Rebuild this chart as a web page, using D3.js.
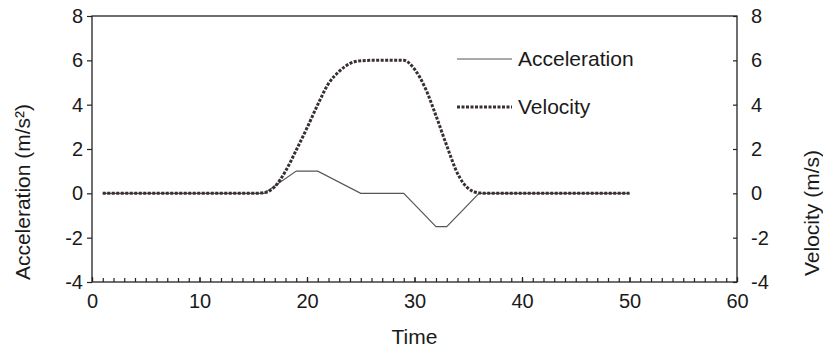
<!DOCTYPE html>
<html>
<head>
<meta charset="utf-8">
<script src="https://cdn.jsdelivr.net/npm/d3@7"></script>
<style>
    body { margin: 0; background: #fff; }
    svg { display: block; }
    text { font-family: "Liberation Sans", Arial, sans-serif; fill: #1a1a1a; }
</style>
</head>
<body>
<svg id="chart" width="823" height="347"></svg>
<script>
// Data
const xTicks = [0, 10, 20, 30, 40, 50, 60];
const yTicks = [-4, -2, 0, 2, 4, 6, 8];

const accelTime = [1, 16, 19, 21, 25, 29, 32, 33, 36, 50];
const accelValues = [0, 0, 1, 1, 0, 0, -1.5, -1.5, 0, 0];

const velStart = 1;   // one sample per time unit, starting at t = 1
const velValues = [
    0, 0, 0, 0, 0, 0, 0, 0, 0, 0,
    0, 0, 0, 0, 0, 0.03, 0.3, 1.0, 1.95, 2.95,
    4.0, 4.95, 5.5, 5.86, 5.98, 6, 6, 6, 6, 5.6,
    4.75, 3.5, 2.15, 0.9, 0.22, 0.02, 0, 0, 0, 0,
    0, 0, 0, 0, 0, 0, 0, 0, 0, 0
];

const seriesNames = ['Acceleration', 'Velocity'];

// Layout
const svg = d3.select('#chart');
const plot = { left: 92, right: 737, top: 16, bottom: 282 };
const tickFont = 20,
    labelFont = 21;

const xScale = d3.scaleLinear().domain([0, 60]).range([plot.left, plot.right]);
const yScale = d3.scaleLinear().domain([-4, 8]).range([plot.bottom, plot.top]);
const plainNum = (d) => String(d);   // plain hyphen minus, as in the original

// Frame
svg.append('rect')
    .attr('x', plot.left).attr('y', plot.top)
    .attr('width', plot.right - plot.left).attr('height', plot.bottom - plot.top)
    .attr('fill', 'none').attr('stroke', '#222').attr('stroke-width', 1.3);

function styleAxis(g) {
    g.select('.domain').remove();
    g.selectAll('line').attr('stroke', '#222').attr('stroke-width', 1.2);
    g.selectAll('text').attr('font-size', tickFont).attr('fill', '#1a1a1a');
}

// Left axis (ticks outward)
svg.append('g')
    .attr('transform', `translate(${plot.left},0)`)
    .call(d3.axisLeft(yScale).tickValues(yTicks).tickFormat(plainNum).tickSize(5).tickPadding(4))
    .call(styleAxis);

// Right axis (ticks inward)
svg.append('g')
    .attr('transform', `translate(${plot.right},0)`)
    .call(d3.axisRight(yScale).tickValues(yTicks).tickFormat(plainNum).tickSize(-4).tickPadding(14))
    .call(styleAxis);

// Bottom axis: minor ticks every unit, labels every 10
svg.append('g')
    .attr('transform', `translate(0,${plot.bottom})`)
    .call(d3.axisBottom(xScale).tickValues(d3.range(0, 61, 1)).tickSize(-4).tickFormat(''))
    .call(styleAxis);

svg.append('g')
    .attr('transform', `translate(0,${plot.bottom})`)
    .call(d3.axisBottom(xScale).tickValues(xTicks).tickFormat(plainNum).tickSize(-5).tickPadding(12))
    .call(styleAxis);

// Axis titles
svg.append('text')
    .attr('transform', 'translate(23,192) rotate(-90)')
    .attr('text-anchor', 'middle').attr('dy', '0.35em')
    .attr('font-size', labelFont)
    .text('Acceleration (m/s²)');

svg.append('text')
    .attr('transform', 'translate(812,213) rotate(-90)')
    .attr('text-anchor', 'middle').attr('dy', '0.35em')
    .attr('font-size', labelFont)
    .text('Velocity (m/s)');

svg.append('text')
    .attr('x', (plot.left + plot.right) / 2).attr('y', 337)
    .attr('text-anchor', 'middle').attr('dy', '0.35em')
    .attr('font-size', labelFont)
    .text('Time');

// Series
const accelLine = d3.line()
    .x((d, i) => xScale(accelTime[i]))
    .y((d) => yScale(d));

const velLine = d3.line()
    .curve(d3.curveMonotoneX)
    .x((d, i) => xScale(velStart + i))
    .y((d) => yScale(d));

svg.append('path')
    .attr('d', accelLine(accelValues))
    .attr('fill', 'none').attr('stroke', '#555').attr('stroke-width', 1.1);

svg.append('path')
    .attr('d', velLine(velValues))
    .attr('fill', 'none').attr('stroke', '#3a2f2f').attr('stroke-width', 3)
    .attr('stroke-dasharray', '3 1.5');

// Legend
const legend = svg.append('g');
const legendRows = [
    { name: seriesNames[0], y: 59, stroke: '#555', width: 1.1, dash: null },
    { name: seriesNames[1], y: 107, stroke: '#3a2f2f', width: 3, dash: '3 1.5' }
];
legendRows.forEach((r) => {
    legend.append('line')
        .attr('x1', 457).attr('x2', 512).attr('y1', r.y).attr('y2', r.y)
        .attr('stroke', r.stroke).attr('stroke-width', r.width)
        .attr('stroke-dasharray', r.dash);
    legend.append('text')
        .attr('x', 518).attr('y', r.y).attr('dy', '0.35em')
        .attr('font-size', labelFont)
        .text(r.name);
});
</script>
</body>
</html>
